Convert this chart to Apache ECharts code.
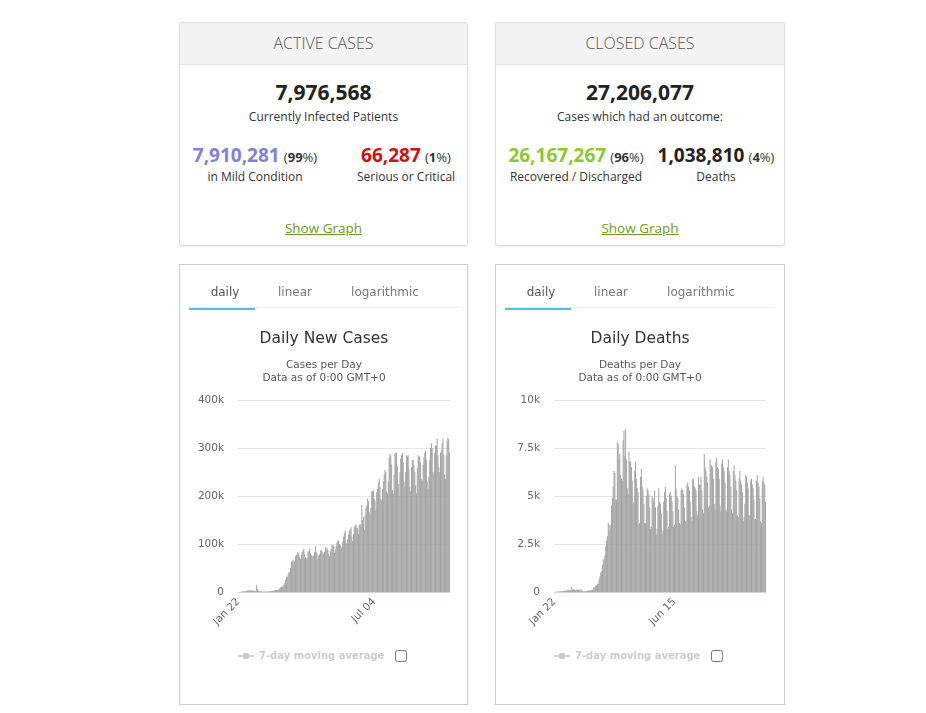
<!DOCTYPE html>
<html>
<head>
<meta charset="utf-8">
<script src="https://cdn.jsdelivr.net/npm/echarts@6/dist/echarts.min.js"></script>
<style>
  html, body { margin:0; padding:0; background:#fff; width:926px; height:713px; overflow:hidden; }
  body { position:relative; font-family:"Open Sans", sans-serif; }
  .card { position:absolute; background:#fff; border:1px solid #ddd; border-radius:3px; box-shadow:0 1px 2px rgba(0,0,0,0.08); box-sizing:border-box; overflow:hidden; }
  .card .hd { height:41px; background:#f3f3f3; border-bottom:1px solid #e3e3e3; text-align:center; line-height:40px; font-size:16px; color:#555; font-weight:300; }
  .big { position:absolute; left:0; right:0; text-align:center; font-weight:bold; font-size:21px; color:#222; }
  .sub { position:absolute; left:0; right:0; text-align:center; font-size:12px; color:#333; }
  .col { position:absolute; text-align:center; width:150px; }
  .col .num { font-weight:bold; font-size:19px; }
  .col .pct { font-size:13px; color:#333; }
  .col .lbl { font-size:12px; color:#333; margin-top:0px; }
  .show { position:absolute; left:0; right:0; text-align:center; font-size:13.5px; color:#6c9a1f; text-decoration:underline; }
  .panel { position:absolute; border:1px solid #ccc; background:#fff; box-sizing:border-box; }
  .tab { position:absolute; top:20px; font-family:"DejaVu Sans", sans-serif; font-size:12px; color:#777; transform:translateX(-50%); }
  .tab.on { color:#555; }
  .sep { position:absolute; left:9px; width:270px; top:42px; height:1px; background:#eee; }
  .ul { position:absolute; left:9px; width:66px; top:43px; height:2px; background:#4dbfe6; }
  .chart { position:absolute; left:0; top:0; width:288px; height:440px; }
  .cb { position:absolute; margin:0; width:12px; height:12px; }
</style>
</head>
<body>
<!-- Active cases card -->
<div class="card" style="left:179px; top:22px; width:289px; height:224px;">
  <div class="hd">ACTIVE CASES</div>
  <div class="big" style="top:55px;">7,976,568</div>
  <div class="sub" style="top:85px;">Currently Infected Patients</div>
  <div class="col" style="left:0px; top:119px;">
    <div><span class="num" style="color:#8080e0;">7,910,281</span> <span class="pct">(<b>99</b>%)</span></div>
    <div class="lbl">in Mild Condition</div>
  </div>
  <div class="col" style="left:151px; top:119px; width:150px;">
    <div><span class="num" style="color:#cc1111;">66,287</span> <span class="pct">(<b>1</b>%)</span></div>
    <div class="lbl">Serious or Critical</div>
  </div>
  <div class="show" style="top:196px;">Show Graph</div>
</div>
<!-- Closed cases card -->
<div class="card" style="left:495px; top:22px; width:290px; height:224px;">
  <div class="hd">CLOSED CASES</div>
  <div class="big" style="top:55px;">27,206,077</div>
  <div class="sub" style="top:85px;">Cases which had an outcome:</div>
  <div class="col" style="left:0px; top:119px; width:160px;">
    <div><span class="num" style="color:#8aca2b;">26,167,267</span> <span class="pct">(<b>96</b>%)</span></div>
    <div class="lbl">Recovered / Discharged</div>
  </div>
  <div class="col" style="left:150px; top:119px; width:140px;">
    <div><span class="num" style="color:#222;">1,038,810</span> <span class="pct">(<b>4</b>%)</span></div>
    <div class="lbl">Deaths</div>
  </div>
  <div class="show" style="top:196px;">Show Graph</div>
</div>

<!-- Chart panels -->
<div class="panel" style="left:179px; top:264px; width:289px; height:441px;">
  <div class="chart" id="c1"></div>
  <div class="tab on" style="left:45px;">daily</div>
  <div class="tab" style="left:115px;">linear</div>
  <div class="tab" style="left:205px;">logarithmic</div>
  <div class="sep"></div><div class="ul"></div>
  <input type="checkbox" class="cb" style="left:215px; top:385px;">
</div>
<div class="panel" style="left:495px; top:264px; width:290px; height:441px;">
  <div class="chart" id="c2"></div>
  <div class="tab on" style="left:45px;">daily</div>
  <div class="tab" style="left:115px;">linear</div>
  <div class="tab" style="left:205px;">logarithmic</div>
  <div class="sep"></div><div class="ul"></div>
  <input type="checkbox" class="cb" style="left:215px; top:385px;">
</div>

<script>
// ---------- DATA ----------
const startDate = [2020, 0, 22];
const casesTickLabels = ['Jan 22', 'Jul 04'];
const deathsTickLabels = ['Jan 22', 'Jun 15'];
const casesYTicks = ['0', '100k', '200k', '300k', '400k'];
const deathsYTicks = ['0', '2.5k', '5k', '7.5k', '10k'];

const dailyNewCases = [
  // Jan 22-31
  100, 150, 250, 450, 700, 800, 1750, 1500, 2000, 2100,
  // Feb
  2600, 2800, 3200, 3900, 3700, 3200, 3400, 2700, 3000, 2500, 2000, 2000, 15100, 6400, 2100, 2100, 2000, 1900, 1800, 500, 1000, 900, 1000, 700, 900, 1000, 1200, 1400, 1800,
  // Mar
  2000, 1900, 2300, 2600, 2800, 4000, 3900, 4100, 3900, 4500, 7000, 7400, 10000, 10800, 11000, 13800, 15000, 19500, 26000, 32000, 32000, 35000, 41000, 42000, 50000, 62000, 64000, 67000, 62000, 64000, 75000,
  // Apr
  77000, 80000, 84000, 80000, 73000, 69000, 77000, 84000, 87000, 90000, 79000, 72000, 70000, 72000, 84000, 85000, 91000, 80000, 77000, 73000, 75000, 76000, 83000, 96000, 84000, 79000, 68000, 76000, 78000, 86000,
  // May
  88000, 85000, 78000, 80000, 84000, 93000, 90000, 92000, 87000, 79000, 75000, 85000, 90000, 98000, 98000, 97000, 82000, 89000, 96000, 103000, 108000, 106000, 100000, 98000, 90000, 95000, 105000, 115000, 123000, 128000, 102000,
  // Jun
  100000, 110000, 120000, 128000, 130000, 135000, 115000, 106000, 121000, 136000, 139000, 140000, 135000, 133000, 121000, 140000, 141000, 141000, 182000, 150000, 156000, 129000, 160000, 175000, 180000, 195000, 189000, 167000, 162000, 175000,
  // Jul
  210000, 210000, 212000, 195000, 190000, 170000, 208000, 215000, 228000, 236000, 220000, 195000, 190000, 215000, 230000, 245000, 254000, 250000, 210000, 205000, 230000, 280000, 288000, 285000, 265000, 212000, 205000, 245000, 288000, 290000, 290000,
  // Aug
  262000, 225000, 200000, 250000, 278000, 285000, 290000, 270000, 230000, 220000, 250000, 285000, 282000, 285000, 255000, 220000, 210000, 260000, 275000, 275000, 265000, 250000, 222000, 205000, 258000, 285000, 280000, 283000, 270000, 235000, 232000,
  // Sep
  265000, 280000, 290000, 295000, 275000, 230000, 215000, 240000, 275000, 300000, 310000, 300000, 250000, 245000, 290000, 305000, 305000, 320000, 285000, 260000, 250000, 290000, 295000, 310000, 320000, 285000, 245000, 235000, 285000, 315000,
  // Oct 1-3
  322000, 318000, 290000
];

const dailyDeaths = [
  // Jan 22-31
  0, 8, 16, 15, 24, 26, 26, 38, 43, 46,
  // Feb
  45, 57, 64, 66, 73, 73, 86, 89, 97, 108, 97, 254, 121, 143, 142, 106, 98, 136, 115, 118, 109, 97, 150, 71, 52, 29, 44, 37, 35,
  // Mar
  58, 67, 72, 84, 80, 102, 104, 98, 230, 211, 272, 329, 346, 434, 431, 676, 816, 1000, 1100, 1400, 1700, 1700, 1900, 2400, 2700, 2900, 3600, 3500, 3200, 3500, 4500,
  // Apr
  4900, 5500, 6300, 6200, 4800, 4800, 7800, 7700, 6900, 7200, 6100, 5900, 5800, 7900, 8400, 7100, 8500, 6900, 5400, 5100, 7300, 6800, 6800, 6500, 5800, 4600, 4700, 6300, 6800, 5900,
  // May
  5400, 5200, 3500, 3600, 6000, 6400, 5500, 5300, 4600, 3600, 3600, 5000, 5400, 5300, 5100, 4400, 3300, 3400, 5000, 4900, 4700, 5300, 4400, 3000, 3300, 4500, 5400, 4700, 4600, 4100, 3000,
  // Jun
  3200, 4700, 5200, 5500, 4900, 4200, 3300, 3400, 5100, 5200, 5000, 4700, 4200, 3400, 3500, 6600, 5400, 5000, 4900, 4300, 3600, 3500, 5300, 5400, 5300, 5100, 4400, 3700, 3600, 5600,
  // Jul
  5700, 5500, 5300, 4700, 3900, 3700, 5900, 5900, 5500, 5400, 5300, 4200, 4000, 6000, 5600, 5600, 6000, 5300, 4300, 4100, 7200, 6500, 6300, 6000, 5700, 4400, 4500, 6900, 6600, 6600, 6500,
  // Aug
  5900, 4600, 4300, 6800, 7000, 6500, 6400, 5900, 4500, 4200, 6700, 6900, 6500, 6300, 5700, 4300, 4200, 6500, 6900, 6300, 6100, 5500, 4300, 4100, 6300, 6600, 6100, 5800, 5300, 4000, 3900,
  // Sep
  5900, 6300, 5800, 5600, 5200, 3700, 3900, 4600, 6100, 6000, 5700, 5400, 4000, 4000, 5800, 5900, 5600, 5400, 4800, 3800, 3800, 5800, 6100, 5700, 5500, 4900, 3700, 3600, 5800, 6000,
  // Oct 1-3
  5700, 5600, 4700
];

// categories: consecutive calendar days from startDate
const months = ['Jan','Feb','Mar','Apr','May','Jun','Jul','Aug','Sep','Oct','Nov','Dec'];
const categories = [];
for (let i = 0; i < dailyNewCases.length; i++) {
  const d = new Date(startDate[0], startDate[1], startDate[2] + i);
  categories.push(months[d.getMonth()] + ' ' + String(d.getDate()).padStart(2, '0'));
}

// ---------- CHARTS ----------
const FONT = '"DejaVu Sans", Verdana, sans-serif';

function makeOption(title, subtitle, values, ticks, yMax, yInterval, yLabels) {
  return {
    animation: false,
    textStyle: { fontFamily: FONT },
    title: [
      { text: title, left: 'center', top: 61, textStyle: { fontFamily: FONT, fontSize: 15.5, fontWeight: 'normal', color: '#333' } },
      { text: subtitle, left: 'center', top: 89, textStyle: { fontFamily: FONT, fontSize: 10.5, fontWeight: 'normal', color: '#555', lineHeight: 13 } }
    ],
    legend: {
      left: 52, top: 381,
      itemWidth: 16, itemHeight: 8, itemGap: 10,
      selected: { '7-day moving average': false },
      inactiveColor: '#cccccc',
      textStyle: { fontFamily: FONT, fontSize: 10, fontWeight: 'bold', color: '#333' },
      data: ['7-day moving average']
    },
    grid: { left: 58, right: 18, top: 135, bottom: 113, containLabel: false },
    xAxis: {
      type: 'category',
      data: categories,
      boundaryGap: true,
      axisLine: { show: true, lineStyle: { color: '#ccd6eb', width: 1 } },
      axisTick: { show: false },
      axisLabel: {
        rotate: 45, fontSize: 10.5, color: '#666', fontFamily: FONT, margin: 8,
        interval: function (idx, val) { return ticks.indexOf(val) >= 0; }
      },
      splitLine: { show: false }
    },
    yAxis: {
      type: 'value',
      min: 0, max: yMax, interval: yInterval,
      axisLine: { show: false },
      axisTick: { show: false },
      axisLabel: {
        fontSize: 10.5, color: '#666', fontFamily: FONT, margin: 14,
        formatter: function (v) { return yLabels[Math.round(v / yInterval)]; }
      },
      splitLine: { lineStyle: { color: '#e6e6e6', width: 1 } }
    },
    series: [
      {
        type: 'bar', name: 'Daily', data: values,
        itemStyle: { color: '#a3a3a3' },
        barCategoryGap: '15%'
      },
      {
        type: 'line', name: '7-day moving average', data: [],
        itemStyle: { color: '#cccccc' }, symbol: 'circle'
      }
    ]
  };
}

const c1 = echarts.init(document.getElementById('c1'), null, { renderer: 'canvas' });
c1.setOption(makeOption('Daily New Cases', 'Cases per Day\nData as of 0:00 GMT+0', dailyNewCases, casesTickLabels, 400000, 100000, casesYTicks));
const c2 = echarts.init(document.getElementById('c2'), null, { renderer: 'canvas' });
c2.setOption(makeOption('Daily Deaths', 'Deaths per Day\nData as of 0:00 GMT+0', dailyDeaths, deathsTickLabels, 10000, 2500, deathsYTicks));
</script>
</body>
</html>
